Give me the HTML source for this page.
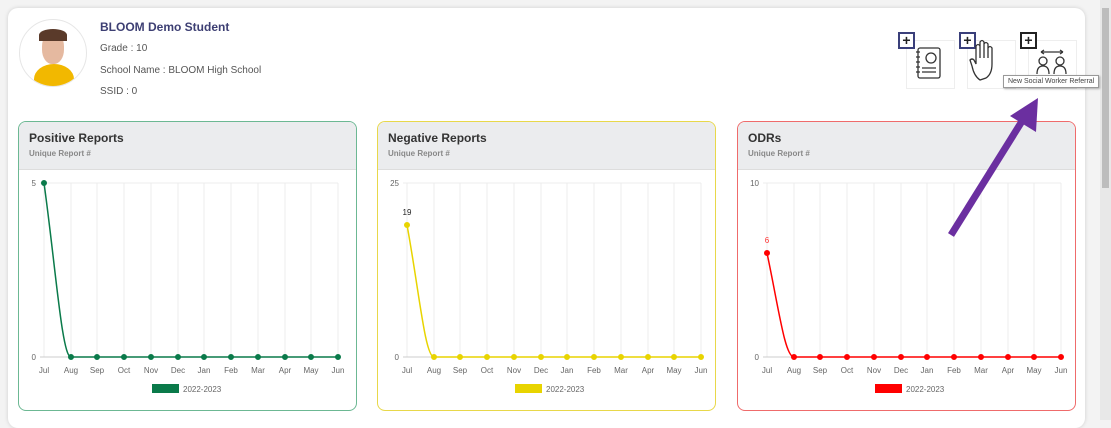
<!DOCTYPE html>
<html><head><meta charset="utf-8"><style>
body{margin:0;width:1111px;height:420px;background:#f3f3f3;font-family:"Liberation Sans",sans-serif;overflow:hidden;position:relative}
.card{position:absolute;left:8px;top:8px;width:1077px;height:420px;background:#fff;border-radius:10px;box-shadow:0 0 4px rgba(0,0,0,.15)}
.t{position:absolute;font-size:10px;color:#555}
.panel{position:absolute;top:121px;width:337px;height:288px;border:1px solid;border-radius:8px;background:#fff;overflow:hidden}
.hd{height:47px;background:#ebecee;border-bottom:1px solid #ddd}
.hd b{display:block;padding:9px 0 0 10px;font-size:12px;color:#333}
.hd span{display:block;padding:4px 0 0 10px;font-size:8px;color:#888;font-weight:bold}
.sb{position:absolute;left:1100px;top:0;width:11px;height:420px;background:#e8e8e8}
.sb div{position:absolute;left:2px;top:8px;width:7px;height:180px;background:#bdbdbd}
.ib{position:absolute;top:40px;width:47px;height:47px;border:1px solid #eee;background:#fff}
.pl{position:absolute;top:32px;width:13px;height:13px;border:2px solid #3a3f7a;font-size:14px;line-height:12px;text-align:center;font-weight:bold;color:#222;background:#fff}
</style></head><body>
<div class="card"></div>
<div class="sb"><div></div></div>
<div style="position:absolute;left:19px;top:19px;width:66px;height:66px;border-radius:50%;border:1px solid #e6e6e6;background:#fff;overflow:hidden">
<div style="position:absolute;left:14px;top:44px;width:40px;height:30px;border-radius:50% 50% 0 0;background:#f2b800"></div>
<div style="position:absolute;left:22px;top:12px;width:22px;height:32px;border-radius:45%;background:#e5b9a0"></div>
<div style="position:absolute;left:19px;top:9px;width:28px;height:12px;border-radius:50% 50% 0 0;background:#5a3a2a"></div>
</div>
<div class="t" style="left:100px;top:20px;font-size:12px;color:#3d3f73;font-weight:bold">BLOOM Demo Student</div>
<div class="t" style="left:100px;top:43px">Grade : 10</div>
<div class="t" style="left:100px;top:65px">School Name : BLOOM High School</div>
<div class="t" style="left:100px;top:86px">SSID : 0</div>
<div class="ib" style="left:906px"></div><div class="ib" style="left:967px"></div><div class="ib" style="left:1028px"></div>
<div class="pl" style="left:898px">+</div><div class="pl" style="left:959px">+</div><div class="pl" style="left:1020px;border-color:#222">+</div>
<svg style="position:absolute;left:0;top:0" width="1111" height="420">
<g fill="none" stroke="#333" stroke-width="1.3">
<rect x="918" y="48" width="22" height="30" rx="2"/><circle cx="931" cy="58" r="5"/><path d="M922 68h14M922 72h14M916 52h4M916 57h4M916 62h4M916 67h4M916 72h4"/>
<path d="M980 80 q-6-4-8-14 l-2-6 q2-2 4 0 l2 4 v-18 q2-3 4 0 v12 v-16 q2-3 4 0 v16 v-14 q2-3 4 0 v14 v-10 q2-3 4 0 v16 q0 10-6 14z"/>
<circle cx="1043" cy="61" r="4"/><path d="M1037 74 q0-8 6-8 q6 0 6 8"/><circle cx="1060" cy="61" r="4"/><path d="M1054 74 q0-8 6-8 q6 0 6 8"/><path d="M1041 52h22M1041 52l3-2M1041 52l3 2M1063 52l-3-2M1063 52l-3 2"/>
</g>
</svg>
<div style="position:absolute;left:1003px;top:75px;border:1px solid #999;background:#fff;font-size:7px;color:#444;padding:2px 4px;box-shadow:1px 1px 2px rgba(0,0,0,.3)">New Social Worker Referral</div>
<div class="panel" style="left:18px;border-color:#6cb893"><div class="hd"><b>Positive Reports</b><span>Unique Report #</span></div></div>
<div class="panel" style="left:377px;border-color:#e8d84a"><div class="hd"><b>Negative Reports</b><span>Unique Report #</span></div></div>
<div class="panel" style="left:737px;border-color:#ef6b6b"><div class="hd"><b>ODRs</b><span>Unique Report #</span></div></div>
<svg style="position:absolute;left:0;top:0" width="1111" height="420" font-family="Liberation Sans,sans-serif">
<defs>
<g id="grid" stroke="#ececec" stroke-width="1">
<path d="M44 183V357M71 183V357M97 183V357M124 183V357M151 183V357M178 183V357M204 183V357M231 183V357M258 183V357M285 183V357M311 183V357M338 183V357M40 183H338"/>
<path d="M40 357H338" stroke="#ccc"/>
</g>
<g id="lab" font-size="8" fill="#666" text-anchor="middle">
<text x="44" y="373">Jul</text><text x="71" y="373">Aug</text><text x="97" y="373">Sep</text><text x="124" y="373">Oct</text><text x="151" y="373">Nov</text><text x="178" y="373">Dec</text><text x="204" y="373">Jan</text><text x="231" y="373">Feb</text><text x="258" y="373">Mar</text><text x="285" y="373">Apr</text><text x="311" y="373">May</text><text x="338" y="373">Jun</text>
<text x="183" y="392" text-anchor="start">2022-2023</text><text x="36" y="360" text-anchor="end">0</text>
</g>
<g id="flat"><path d="M71 357H338" stroke-width="1.5"/>
<circle cx="71" cy="357" r="2.5"/><circle cx="97" cy="357" r="2.5"/><circle cx="124" cy="357" r="2.5"/><circle cx="151" cy="357" r="2.5"/><circle cx="178" cy="357" r="2.5"/><circle cx="204" cy="357" r="2.5"/><circle cx="231" cy="357" r="2.5"/><circle cx="258" cy="357" r="2.5"/><circle cx="285" cy="357" r="2.5"/><circle cx="311" cy="357" r="2.5"/><circle cx="338" cy="357" r="2.5"/></g>
</defs>
<use href="#grid"/><use href="#lab"/>
<g fill="#0a7a4a" stroke="#0a7a4a"><use href="#flat"/><path d="M44 183C56 270 62 357 71 357" fill="none" stroke-width="1.5"/><circle cx="44" cy="183" r="2.5"/><rect x="152" y="384" width="27" height="9" stroke="none"/></g>
<text x="36" y="186" font-size="8" fill="#666" text-anchor="end">5</text>
<g transform="translate(363,0)"><use href="#grid"/><use href="#lab"/>
<g fill="#e8d400" stroke="#e8d400"><use href="#flat"/><path d="M44 225C56 290 62 357 71 357" fill="none" stroke-width="1.5"/><circle cx="44" cy="225" r="2.5"/><rect x="152" y="384" width="27" height="9" stroke="none"/></g>
<text x="36" y="186" font-size="8" fill="#666" text-anchor="end">25</text><text x="44" y="215" font-size="8" fill="#222" text-anchor="middle">19</text></g>
<g transform="translate(723,0)"><use href="#grid"/><use href="#lab"/>
<g fill="#f00" stroke="#f00"><use href="#flat"/><path d="M44 253C56 310 62 357 71 357" fill="none" stroke-width="1.5"/><circle cx="44" cy="253" r="2.5"/><rect x="152" y="384" width="27" height="9" stroke="none"/></g>
<text x="36" y="186" font-size="8" fill="#666" text-anchor="end">10</text><text x="44" y="243" font-size="8" fill="#f33" text-anchor="middle">6</text></g>
<path d="M951 235L1024 118" stroke="#6b2fa0" stroke-width="7"/>
<path d="M1038 98L1036 132L1010 116Z" fill="#6b2fa0"/>
</svg>
</body></html>
